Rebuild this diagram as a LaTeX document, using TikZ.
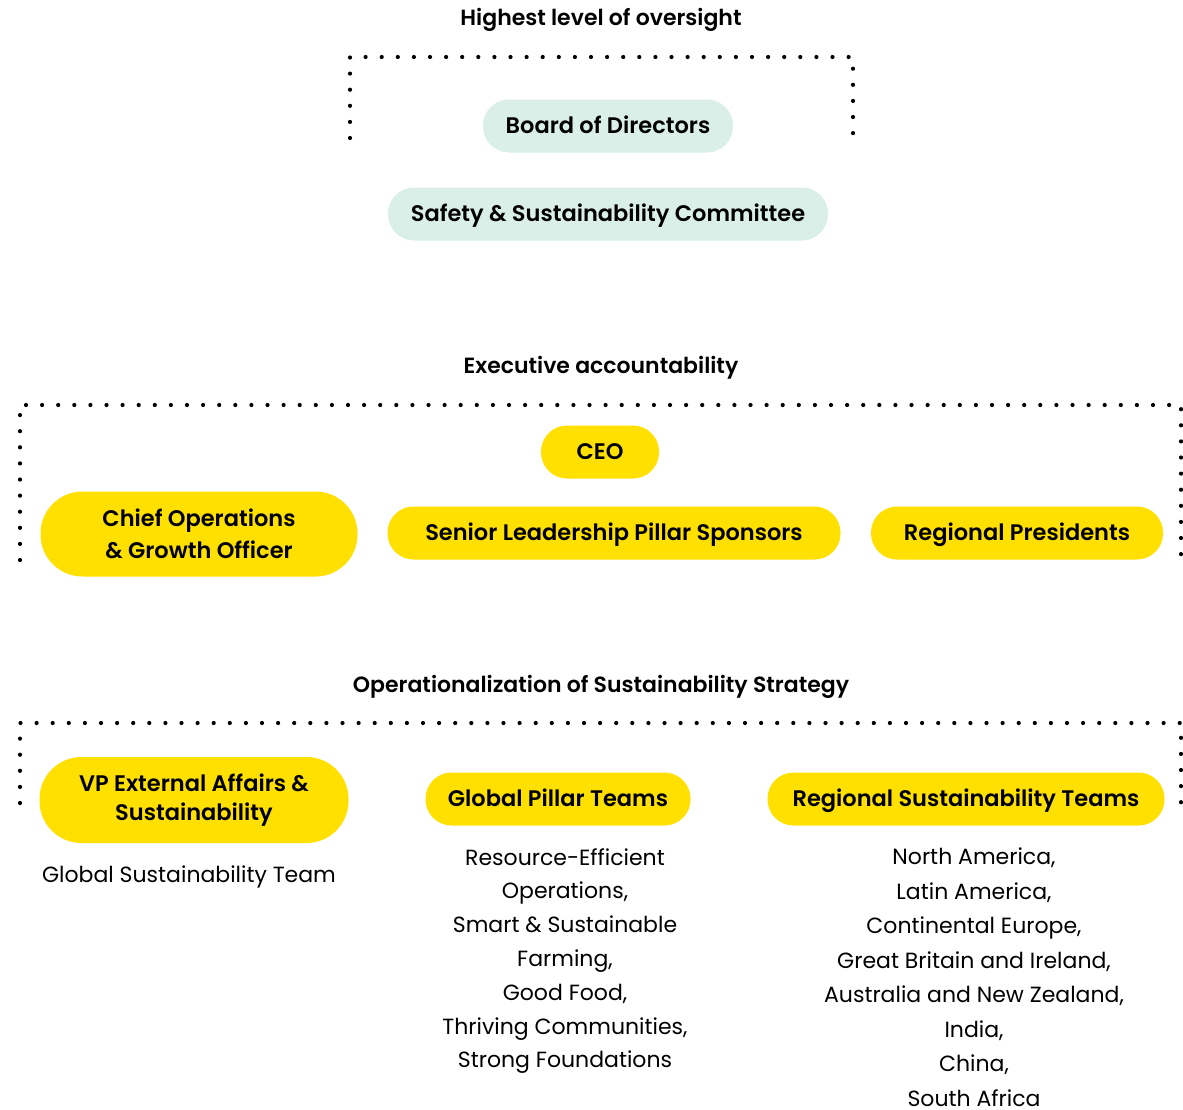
\documentclass[tikz,border=0pt]{standalone}
\usepackage{fontspec}
\setmainfont{Poppins}[BoldFont={Poppins SemiBold}]
\usepackage{tikz}
\usetikzlibrary{positioning}
\definecolor{mint}{HTML}{DAEFE8}
\definecolor{sunny}{HTML}{FFE000}
\tikzstyle{pill}=[rectangle, rounded corners=26pt, minimum height=53pt, inner xsep=0pt, align=center, font=\bfseries\fontsize{22.5}{31}\selectfont]
\tikzstyle{oneline}=[text height=20pt, text depth=4.3pt]
\tikzstyle{board}=[pill, oneline, fill=mint]
\tikzstyle{lead}=[pill, fill=sunny]
\tikzstyle{hdr}=[font=\bfseries\fontsize{22}{26}\selectfont]
\tikzstyle{lst}=[align=center, font=\fontsize{22}{34.5}\selectfont]
\tikzstyle{dots}=[line width=4.2pt, line cap=round, dash pattern=on 0pt off 16.1pt]

\begin{document}
\begin{tikzpicture}[x=1pt, y=-1pt]
\useasboundingbox (0,0) rectangle (1183,1109);
% highest level
\node[hdr] (hOver) at (601,20) {Highest level of oversight};
\draw[dots] (350,138) -- (350,57) -- (853,57) -- (853,140);
\node[board, minimum width=250pt] (bod) at (608,126) {Board of Directors};
\node[board, minimum width=440pt] (ssc) at (608,214) {Safety \& Sustainability Committee};
% executive
\node[hdr] (hExec) at (601,368) {Executive accountability};
\draw[dots] (20,560) -- (20,405) -- (1181,405) -- (1181,568);
\node[lead, oneline, minimum width=118pt] (ceo) at (600,452) {CEO};
\node[lead, minimum width=317pt, minimum height=85pt, rounded corners=42pt, font=\bfseries\fontsize{22.5}{32}\selectfont] (coo) at (199,534) {Chief Operations\\\& Growth Officer};
\node[lead, oneline, minimum width=453pt] (slp) at (614,533) {Senior Leadership Pillar Sponsors};
\node[lead, oneline, minimum width=292pt] (rp) at (1017,533) {Regional Presidents};
% operationalization
\node[hdr] (hOps) at (601,687) {Operationalization of Sustainability Strategy};
\draw[dots] (20,803) -- (20,723) -- (1181,723) -- (1181,808);
\node[lead, minimum width=309pt, minimum height=86pt, rounded corners=42pt, font=\bfseries\fontsize{22.5}{29.5}\selectfont] (vp) at (194,800) {VP External Affairs \&\\Sustainability};
\node[lead, oneline, minimum width=265pt] (gpt) at (558,799) {Global Pillar Teams};
\node[lead, oneline, minimum width=397pt] (rst) at (966,799) {Regional Sustainability Teams};
\node[lst] (gst) at (189,877) {Global Sustainability Team};
\node[lst, font=\fontsize{22}{33.8}\selectfont] (gptList) at (565,961) {Resource-Efficient\\Operations,\\Smart \& Sustainable\\Farming,\\Good Food,\\Thriving Communities,\\Strong Foundations};
\node[lst] (rstList) at (974,977) {North America,\\Latin America,\\Continental Europe,\\Great Britain and Ireland,\\Australia and New Zealand,\\India,\\China,\\South Africa};
\end{tikzpicture}
\end{document}
